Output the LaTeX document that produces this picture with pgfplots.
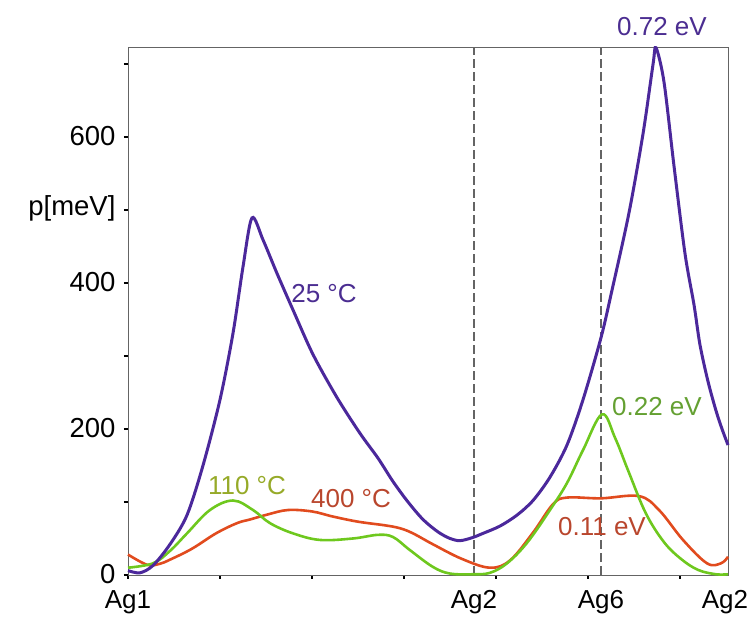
\documentclass[border=0pt]{standalone}
\usepackage{pgfplots}
\pgfplotsset{compat=1.18}
\usepackage{fontspec}
\setmainfont{Liberation Sans}
\definecolor{cpurple}{RGB}{75,40,155}
\definecolor{cpurpletxt}{RGB}{75,45,145}
\definecolor{cgreen}{RGB}{110,200,30}
\definecolor{cgreentxt}{RGB}{100,160,50}
\definecolor{colive}{RGB}{150,170,40}
\definecolor{cred}{RGB}{225,75,30}
\definecolor{credtxt}{RGB}{185,70,45}
\definecolor{cspine}{RGB}{100,100,100}
\begin{document}
\begin{tikzpicture}
\begin{axis}[
  scale only axis, width=600pt, height=528pt,
  xmin=0, xmax=600, ymin=0, ymax=723,
  axis line style={draw=cspine, line width=0.9pt},
  tick align=outside, xtick pos=bottom, ytick pos=left,
  major tick length=4pt,
  every tick/.style={black, line width=2pt},
  xtick={0,92,184,276,368,460,552},
  xticklabels={},
  extra x ticks={0,346,473,597},
  extra x tick labels={Ag1,Ag2,Ag6,Ag2},
  extra x tick style={major tick length=0pt, tick label style={yshift=-12pt, font=\fontsize{26}{28}\selectfont}},
  ytick={0,100,...,700},
  yticklabels={0,,200,,400,p[meV],600,},
  /pgf/number format/assume math mode=true,
  tick label style={font=\fontsize{27.5}{30}\selectfont},
  yticklabel style={xshift=-5pt, yshift=1pt},
  clip=false,
]
\addplot[cspine, line width=1.2pt, dash pattern=on 9pt off 4pt, forget plot] coordinates {(346,0) (346,723)};
\addplot[cspine, line width=1.2pt, dash pattern=on 9pt off 4pt, forget plot] coordinates {(473,0) (473,723)};
% 400 C
\addplot[cred, line width=2.6pt, smooth, tension=0.6] coordinates {
(0,28) (19,14) (31,15) (42,21) (64,36) (88,57) (109,71) (122,76) (140,83) (160,89) (184,87) (205,80) (230,73) (257,68) (272,64) (285,57) (305,42) (334,22) (362,10) (382,20) (405,58) (425,97) (439,106) (473,105) (511,108) (531,89) (555,48) (579,16) (593,16) (600,25)};
% 110 C
\addplot[cgreen, line width=2.6pt, smooth, tension=0.6] coordinates {
(0,10) (25,16) (42,33) (59,57) (82,89) (105,102) (125,89) (142,71) (165,57) (192,48) (225,50) (250,55) (265,52) (282,34) (305,11) (322,2) (345,1) (362,3) (379,16) (399,44) (422,89) (439,126) (455,171) (474,220) (487,188) (501,140) (518,84) (536,45) (553,22) (570,7) (588,1) (600,1)};
% 25 C
\addplot[cpurple, line width=3pt, smooth, tension=0.5] coordinates {
(0,6) (12,3) (25,13) (42,42) (59,82) (75,150) (92,240) (105,331) (115,422) (124,489) (135,459) (149,413) (165,363) (185,302) (209,243) (232,194) (250,160) (265,128) (280,100) (295,76) (310,59) (322,50) (332,47) (344,51) (355,57) (372,67) (389,82) (405,102) (422,134) (439,178) (455,240) (473,325) (484,390) (501,496) (515,604) (525,699) (528,722) (536,675) (546,560) (557,440) (566,370) (572,315) (580,265) (588,225) (594,200) (600,178)};
\node[text=cpurpletxt, font=\fontsize{26}{30}\selectfont] at (axis cs:196,385) {25 °C};
\node[text=cpurpletxt, font=\fontsize{26}{30}\selectfont] at (axis cs:534,751) {0.72 eV};
\node[text=colive, font=\fontsize{26}{30}\selectfont] at (axis cs:119,122) {110 °C};
\node[text=credtxt, font=\fontsize{26}{30}\selectfont] at (axis cs:223,104) {400 °C};
\node[text=cgreentxt, font=\fontsize{26}{30}\selectfont] at (axis cs:529,230) {0.22 eV};
\node[text=credtxt, font=\fontsize{26}{30}\selectfont] at (axis cs:474,67) {0.11 eV};
\coordinate (O) at (rel axis cs:0,0);
\end{axis}
\pgfresetboundingbox
\useasboundingbox ([shift={(-128pt,-42pt)}]O) rectangle ([shift={(623pt,575pt)}]O);
\end{tikzpicture}
\end{document}
